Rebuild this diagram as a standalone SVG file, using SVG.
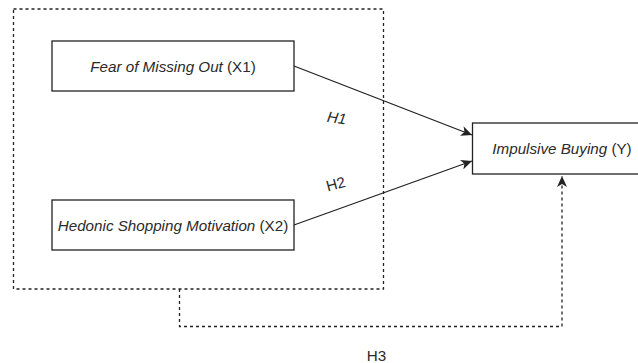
<svg xmlns="http://www.w3.org/2000/svg" width="638" height="363" viewBox="0 0 638 363">
<style>
.box{fill:#fff;stroke:#222;stroke-width:1.3}
.t{font-family:"Liberation Sans",Arial,sans-serif;font-size:15.2px;fill:#2a2a2a}
.it{font-style:italic}
.c{fill:none;stroke:#222;stroke-width:1.3}
.d{fill:none;stroke:#222;stroke-width:1.3;stroke-dasharray:3 3}
</style>
<defs>
<marker id="ah" markerWidth="12" markerHeight="10" refX="11" refY="5" orient="auto" markerUnits="userSpaceOnUse">
<path d="M0,0 L11,5 L0,10 L3,5 Z" fill="#222"/>
</marker>
</defs>
<g id="group">
<rect x="13.5" y="9" width="370" height="280" class="d"/>
</g>
<g id="x1">
<rect class="box" x="52" y="41" width="242" height="50"/>
<text class="t" x="173" y="71.5" text-anchor="middle"><tspan class="it">Fear of Missing Out</tspan> (X1)</text>
</g>
<g id="x2">
<rect class="box" x="52" y="200" width="242" height="50"/>
<text class="t" x="173" y="230.5" text-anchor="middle"><tspan class="it">Hedonic Shopping Motivation</tspan> (X2)</text>
</g>
<g id="y">
<rect class="box" x="472.5" y="123" width="170" height="51"/>
<text class="t" x="562" y="154" text-anchor="middle"><tspan class="it">Impulsive Buying</tspan> (Y)</text>
</g>
<g id="connectors">
<line class="c" x1="294" y1="66" x2="472" y2="135" marker-end="url(#ah)"/>
<line class="c" x1="294" y1="225" x2="472" y2="161" marker-end="url(#ah)"/>
<polyline class="d" points="179.5,289 179.5,326.5 562,326.5 562,176" marker-end="url(#ah)"/>
<text class="t it" x="0" y="0" transform="translate(336,123) rotate(8)" text-anchor="middle" font-size="13">H1</text>
<text class="t" x="0" y="0" transform="translate(337,189) rotate(-15)" text-anchor="middle" font-size="13">H2</text>
<text class="t" x="376.5" y="361" text-anchor="middle" font-size="13">H3</text>
</g>
</svg>
